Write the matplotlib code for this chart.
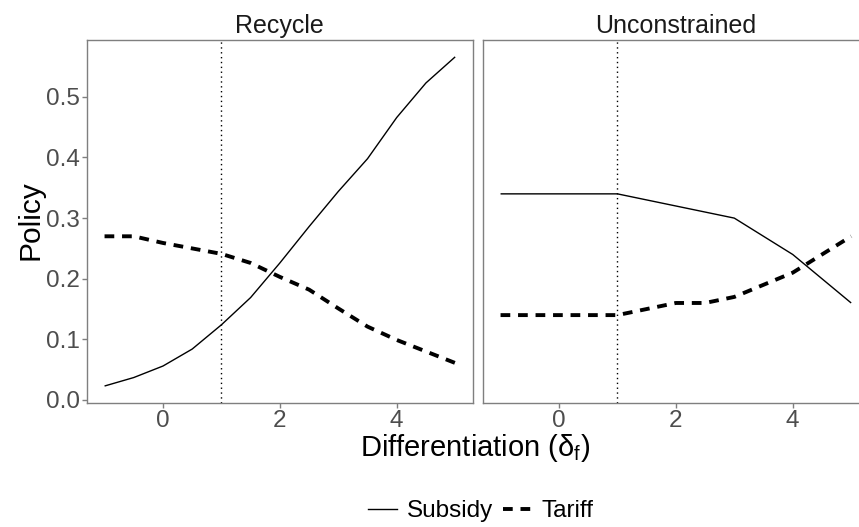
import matplotlib
matplotlib.use("Agg")
import matplotlib.pyplot as plt
from matplotlib.lines import Line2D

plt.rcParams['font.family'] = ['Liberation Sans', 'DejaVu Sans']
plt.rcParams['mathtext.fontset'] = 'custom'
plt.rcParams['mathtext.rm'] = 'Liberation Sans'
plt.rcParams['mathtext.it'] = 'Liberation Sans:italic'

# differentiation grid shared by both scenarios
delta = [-1, -0.5, 0, 0.5, 1, 1.5, 2, 2.5, 3, 3.5, 4, 4.5, 5]

recycle_subsidy = [0.023, 0.037, 0.056, 0.084, 0.124, 0.169, 0.226, 0.286,
                   0.344, 0.398, 0.466, 0.523, 0.566]
recycle_tariff = [0.270, 0.270, 0.259, 0.250, 0.241, 0.226, 0.203, 0.182,
                  0.151, 0.121, 0.099, 0.080, 0.061]

unconstrained_subsidy = [0.34, 0.34, 0.34, 0.34, 0.34, 0.33, 0.32, 0.31,
                         0.30, 0.27, 0.24, 0.20, 0.16]
unconstrained_tariff = [0.14, 0.14, 0.14, 0.14, 0.14, 0.15, 0.16, 0.16,
                        0.17, 0.19, 0.21, 0.24, 0.27]

panels = ["Recycle", "Unconstrained"]
vline_at = 1

grey = "#4D4D4D"
border = "#7F7F7F"
dash = (0, (2.5, 2.0))

fig = plt.figure(figsize=(8.59, 5.27), dpi=100)
ax1 = fig.add_axes([0.1013, 0.2353, 0.449, 0.689])
ax2 = fig.add_axes([0.5623, 0.2353, 0.449, 0.689])

data = [(recycle_subsidy, recycle_tariff), (unconstrained_subsidy, unconstrained_tariff)]

for ax, title, (sub, tar) in zip([ax1, ax2], panels, data):
    ax.plot(delta, sub, color="black", lw=1.0, solid_capstyle="butt")
    ax.plot(delta, tar, color="black", lw=2.8, linestyle=dash, dash_capstyle="butt")
    ax.axvline(vline_at, color="black", lw=1.0, linestyle=(0, (1, 2.5)))
    ax.set_xlim(-1.3, 5.3)
    ax.set_ylim(-0.005, 0.594)
    ax.set_xticks([0, 2, 4])
    ax.set_yticks([0.0, 0.1, 0.2, 0.3, 0.4, 0.5])
    ax.set_yticklabels(["0.0", "0.1", "0.2", "0.3", "0.4", "0.5"])
    ax.tick_params(axis="both", colors=border, labelcolor=grey, labelsize=17.5,
                   length=3.3, width=1.0, direction="out", pad=1.5)
    for s in ax.spines.values():
        s.set_color(border)
        s.set_linewidth(1.0)
    ax.set_title(title, fontsize=18, color="#1A1A1A", pad=5)

ax2.tick_params(axis="y", left=False, labelleft=False)

fig.text(0.035, 0.583, "Policy", rotation=90, fontsize=21.5, ha="center", va="center")
fig.text(0.553, 0.15, "Differentiation (δ$_\\mathrm{f}$)", fontsize=21,
         ha="center", va="center")

handles = [Line2D([], [], color="black", lw=1.0),
           Line2D([], [], color="black", lw=2.8, linestyle=dash)]
fig.legend(handles, ["Subsidy", "Tariff"], loc="center", ncol=2,
           bbox_to_anchor=(0.56, 0.03), frameon=False, fontsize=17.5,
           handlelength=1.2, handletextpad=0.4, columnspacing=0.4)

fig.savefig("out.png", dpi=100)
